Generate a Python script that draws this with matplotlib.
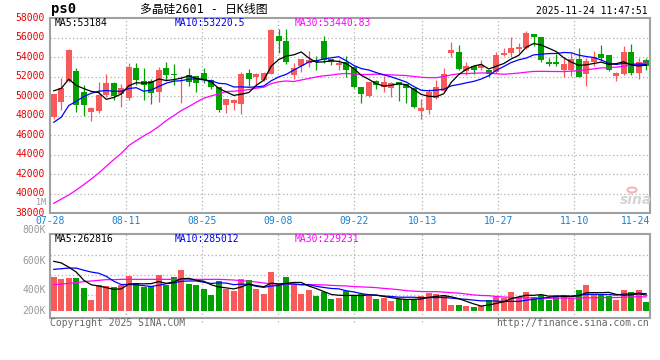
import numpy as np
import pandas as pd
import matplotlib
matplotlib.use('Agg')
import matplotlib.pyplot as plt
from matplotlib.patches import Circle
from matplotlib.transforms import ScaledTranslation

plt.rcParams['font.family'] = ['DejaVu Sans Mono', 'Noto Sans CJK SC']

# daily K-line, 80 sessions 07-28 .. 11-24
date_labels = ['07-28', '08-11', '08-25', '09-08', '09-22', '10-13', '10-27', '11-10', '11-24']
date_index = [0, 10, 20, 30, 40, 49, 59, 69, 79]

opens = [47840, 49380, 51600, 52570, 50400, 48350, 48520, 50130, 51330, 50240,
         49800, 52880, 51510, 51510, 50380, 52880, 52230, 51820, 52190, 52060,
         52360, 51710, 50920, 49140, 49280, 49210, 52330, 52020, 51680, 52300,
         56200, 55620, 52200, 53080, 53420, 53700, 55660, 53800, 53170, 53550,
         52980, 50920, 50000, 51560, 50920, 50870, 51440, 51270, 50790, 48470,
         48600, 49860, 50580, 54420, 54490, 52600, 53050, 52900, 52640, 52470,
         54180, 54460, 54800, 54990, 56380, 56040, 53460, 53460, 52660, 52690,
         53870, 52240, 53510, 54300, 54180, 52040, 52300, 54580, 52350, 53700]
highs = [50250, 51850, 54870, 52880, 51100, 48870, 51440, 52300, 51440, 51260,
         53430, 53430, 52880, 51780, 52980, 53500, 53260, 52060, 52880, 52100,
         52930, 51750, 50990, 49700, 49700, 52530, 52830, 52330, 52450, 56850,
         56850, 56900, 53360, 53830, 54590, 54080, 56150, 53830, 53870, 54130,
         53050, 50990, 51430, 51620, 52090, 51500, 51500, 51300, 50850, 49760,
         50700, 51680, 52880, 55540, 55250, 53460, 53100, 53670, 52700, 54490,
         54990, 56030, 55500, 56650, 56400, 56070, 53920, 54300, 54010, 54420,
         54900, 53900, 54650, 55210, 54250, 52470, 55110, 55350, 53940, 53960]
lows = [47700, 48600, 51500, 48350, 47940, 47430, 48280, 49890, 49650, 48860,
        49650, 51100, 49600, 49210, 49450, 51610, 51100, 49280, 51030, 50410,
        51400, 50750, 48420, 48260, 48600, 48150, 51000, 51030, 51570, 52230,
        54440, 53330, 51780, 52500, 52980, 52710, 53450, 53220, 52700, 51990,
        50860, 49300, 49900, 50760, 50410, 49880, 49500, 49330, 48800, 47660,
        48180, 49660, 50520, 53980, 52640, 52200, 52300, 52700, 52000, 52400,
        54100, 53980, 54460, 54870, 55180, 53530, 53070, 53150, 51950, 52060,
        51950, 51010, 53150, 53630, 52620, 51540, 52150, 52210, 51800, 52720]
closes = [50200, 50800, 54760, 49070, 49070, 48780, 50130, 51330, 50000, 50890,
          52980, 51710, 51100, 50340, 52700, 52200, 52160, 51860, 51500, 51340,
          51710, 50900, 48540, 49690, 49570, 52300, 51760, 52240, 52350, 56800,
          55660, 53530, 52900, 53820, 53700, 53500, 53700, 53500, 53410, 52670,
          50920, 50240, 51420, 51180, 51420, 51330, 51130, 50790, 48860, 48780,
          50400, 50920, 52300, 54700, 52780, 53050, 52640, 53190, 52300, 54200,
          54440, 55000, 55040, 56500, 56070, 53670, 53350, 53330, 53290, 53870,
          52000, 53600, 54050, 53950, 52720, 52380, 54580, 52350, 53500, 53100]
volumes_k = [558, 520, 537, 537, 378, 181, 422, 405, 389, 422,
             575, 454, 389, 411, 586, 433, 553, 668, 443, 422,
             361, 257, 493, 367, 334, 520, 504, 356, 274, 635,
             449, 553, 433, 274, 340, 246, 307, 192, 208, 323,
             257, 285, 246, 192, 214, 159, 192, 192, 200, 241,
             293, 274, 255, 96, 96, 77, 60, 77, 178, 236,
             211, 307, 230, 307, 235, 268, 175, 252, 268, 214,
             340, 420, 270, 258, 242, 175, 350, 307, 340, 142]

# moving averages before enough sessions are on screen
ma5_head = [50550, 50800, 51750, 51100]
ma10_head = [47320, 47840, 49040, 49480, 49960, 50300, 50510, 50580, 50510]
ma30_head = [38990, 39430, 39850, 40360, 40910, 41490, 42110, 42800, 43480, 44130,
             44920, 45440, 45920, 46360, 46880, 47490, 48000, 48520, 48930, 49380,
             49790, 50030, 50240, 50480, 50510, 50580, 50680, 50820, 50920]
vma5_head = [816, 790, 720, 640]
vma10_head = [684, 695, 705, 705, 670, 640, 620, 570, 490]
vma30_head = [433, 443, 454, 465, 482, 493, 504, 515, 515, 520,
              520, 520, 520, 520, 520, 520, 520, 520, 520, 520,
              520, 520, 520, 515, 509, 498, 488, 477, 460]

W, H = 660, 360
RED = '#f85a5a'
GREEN = '#00a000'
GRID = '#b0b0b0'
FRAME = '#a0a0a0'


def ma(values, n, head):
    s = pd.Series(values, dtype=float).rolling(n).mean().values
    s[:len(head)] = head
    return s


def box(l, t, r, b):
    return [l / W, 1 - b / H, (r - l) / W, (b - t) / H]


def ptext(fig, x, y, s, **kw):
    kw.setdefault('va', 'center')
    kw.setdefault('fontsize', 7)
    fig.text(x / W, 1 - y / H, s, **kw)


def frame(ax):
    for sp in ax.spines.values():
        sp.set_color(FRAME)
        sp.set_linewidth(1.5)
    ax.set_xticks([])


def vgrid(ax, below=0.0):
    for i in date_index[1:-1]:
        ax.axvline(i * 80 / 79 - 0.5, ymin=below, ymax=1, color=GRID, lw=0.9,
                   ls=(0, (1, 2)), zorder=1, clip_on=False)


def plot():
    o = np.array(opens, float)
    c = np.array(closes, float)
    x = np.arange(len(o))
    colors = np.where(c >= o, RED, GREEN)

    fig = plt.figure(figsize=(6.6, 3.6), dpi=100)

    # price panel
    ax1 = fig.add_axes(box(50, 18.3, 650, 213))
    ax1.set_xlim(-0.5, 79.5)
    ax1.set_ylim(38000, 58000)
    for y in range(40000, 58000, 2000):
        ax1.axhline(y, color=GRID, lw=0.9, ls=(0, (1, 2)), zorder=1)
    vgrid(ax1)
    ax1.vlines(x, lows, highs, colors=colors, lw=0.9, zorder=2)
    ax1.bar(x, np.maximum(np.abs(c - o), 70), bottom=np.minimum(o, c), width=0.8,
            color=colors, lw=0, zorder=3)
    ax1.plot(x, ma(closes, 30, ma30_head), color='#ff00ff', lw=0.9, zorder=4)
    ax1.plot(x, ma(closes, 10, ma10_head), color='#0000ff', lw=0.9, zorder=4)
    ax1.plot(x, ma(closes, 5, ma5_head), color='black', lw=0.9, zorder=4)
    frame(ax1)
    ax1.set_yticks(range(38000, 58001, 2000))
    ax1.tick_params(axis='y', length=0, pad=4, labelsize=7, labelcolor='#e60000')
    up = ScaledTranslation(0, 1.5 / 100, fig.dpi_scale_trans)
    for lab in ax1.get_yticklabels():
        lab.set_transform(lab.get_transform() + up)

    for i, lab in zip(date_index, date_labels):
        gx = i * 80 / 79 - 0.5
        ha = 'center'
        if i == date_index[-1]:
            gx, ha = 79.5, 'right'
        ax1.text(gx, -0.041, lab, transform=ax1.get_xaxis_transform(), ha=ha,
                 va='center', fontsize=7, color='#1a80d0')

    # volume panel
    ax2 = fig.add_axes(box(50, 234, 650, 318))
    ax2.set_xlim(-0.5, 79.5)
    ax2.set_ylim(-115000, 1265000)
    for f in (0.75, 0.512, 0.274):
        ax2.plot([0, 1], [f, f], transform=ax2.transAxes, color=GRID, lw=0.9,
                 ls=(0, (1, 2)), zorder=1)
    vgrid(ax2, below=-0.05)
    vol = np.array(volumes_k, float) * 1000
    ax2.bar(x, vol, width=0.8, color=colors, lw=0, zorder=2)
    ax2.plot(x, ma(volumes_k, 30, vma30_head) * 1000, color='#ff00ff', lw=0.9, zorder=3)
    ax2.plot(x, ma(volumes_k, 10, vma10_head) * 1000, color='#0000ff', lw=0.9, zorder=3)
    ax2.plot(x, ma(volumes_k, 5, vma5_head) * 1000, color='black', lw=0.9, zorder=3)
    frame(ax2)
    ax2.set_yticks([])

    # texts
    ptext(fig, 51, 9.5, 'ps0', fontsize=10, fontweight='bold')
    ptext(fig, 140, 9.5, '多晶硅2601 - 日K线图', fontsize=8.5)
    ptext(fig, 648, 11, '2025-11-24 11:47:51', ha='right')
    ptext(fig, 54.5, 23.5, 'MA5:53184')
    ptext(fig, 174.5, 23.5, 'MA10:53220.5', color='#0000ee')
    ptext(fig, 295, 23.5, 'MA30:53440.83', color='#ff00ff')
    ptext(fig, 46, 202.5, '1M', ha='right', fontsize=6, color='#999999')
    ptext(fig, 54.5, 238.5, 'MA5:262816')
    ptext(fig, 174.5, 238.5, 'MA10:285012', color='#0000ee')
    ptext(fig, 295, 238.5, 'MA30:229231', color='#ff00ff')
    for y, lab in [(230.5, '800K'), (261, '600K'), (290, '400K'), (310.5, '200K')]:
        ptext(fig, 46, y, lab, ha='right', color='#999999')
    ptext(fig, 50, 323.5, 'Copyright 2025 SINA.COM', color='#666666')
    ptext(fig, 649, 323.5, 'http://finance.sina.com.cn', ha='right', color='#666666')

    # sina watermark
    fig.add_artist(Circle((632 / W, 1 - 190 / H), 4.5 / W, transform=fig.transFigure,
                          fill=False, ec='#f2b8b8', lw=1.5))
    ptext(fig, 636, 200, 'sina', ha='center', fontsize=10, fontweight='bold',
          style='italic', color='#d4d4d4', family='DejaVu Sans')

    plt.savefig('out.png', dpi=100)


plot()
